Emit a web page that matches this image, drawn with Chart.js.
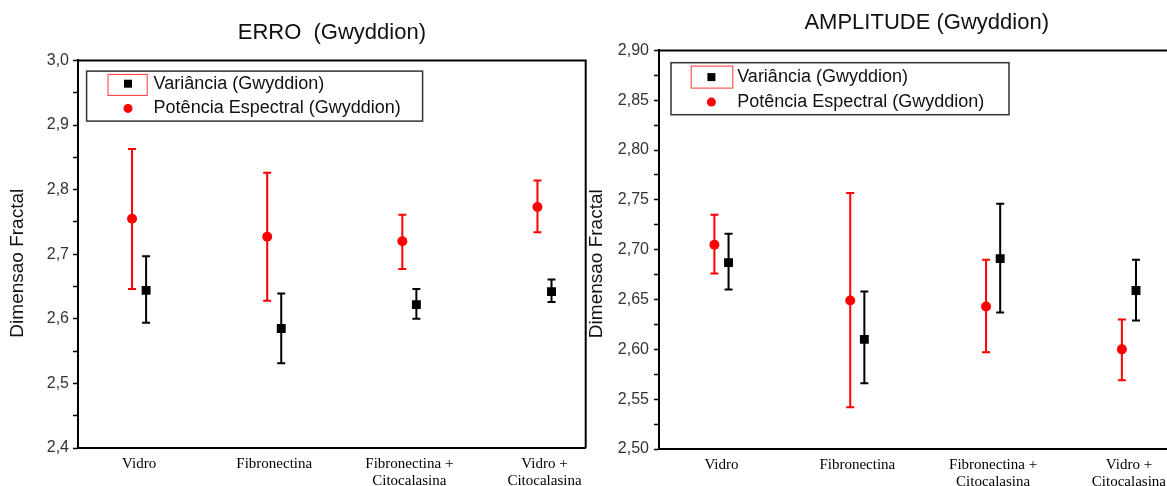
<!DOCTYPE html>
<html lang="pt">
<head>
<meta charset="utf-8">
<title>Dimensão fractal – Gwyddion</title>
<script src="https://cdn.jsdelivr.net/npm/chart.js@4.4.1/dist/chart.umd.min.js"></script>
<style>
  html, body { margin: 0; padding: 0; background: #fff; overflow: hidden; }
  #wrap { position: relative; width: 1167px; height: 486px; overflow: hidden; }
  #wrap canvas { position: absolute; top: 0; }
  #chartErro { left: 0; }
  #chartAmp { left: 585px; }
</style>
</head>
<body>
<div id="wrap">
  <canvas id="chartErro" width="592" height="486"></canvas>
  <canvas id="chartAmp" width="622" height="486"></canvas>
</div>
<script>
// amostras (eixo x)
const CATEGORIAS = [['Vidro'], ['Fibronectina'], ['Fibronectina +', 'Citocalasina'], ['Vidro +', 'Citocalasina']];
const SERIES = ['Variância (Gwyddion)', 'Potência Espectral (Gwyddion)'];
const EIXO_Y = 'Dimensao Fractal';

// ERRO: média e limites das barras de erro
const ERRO_VAR = [2.644, 2.585, 2.622, 2.642];
const ERRO_VAR_MIN = [2.594, 2.531, 2.600, 2.626];
const ERRO_VAR_MAX = [2.697, 2.639, 2.646, 2.661];
const ERRO_POT = [2.755, 2.727, 2.720, 2.773];
const ERRO_POT_MIN = [2.646, 2.628, 2.677, 2.734];
const ERRO_POT_MAX = [2.863, 2.826, 2.761, 2.814];

// AMPLITUDE
const AMP_VAR = [2.687, 2.610, 2.691, 2.659];
const AMP_VAR_MIN = [2.660, 2.566, 2.637, 2.629];
const AMP_VAR_MAX = [2.716, 2.658, 2.746, 2.690];
const AMP_POT = [2.705, 2.649, 2.643, 2.600];
const AMP_POT_MIN = [2.676, 2.542, 2.597, 2.569];
const AMP_POT_MAX = [2.735, 2.757, 2.690, 2.630];

(function () {
  'use strict';

  const SANS = '"Liberation Sans", Arial, sans-serif';
  const SERIF = '"Liberation Serif", "Times New Roman", serif';
  const RED = '#ff0000';
  const BLACK = '#000000';
  const SHIFT = 0.052; // deslocamento lateral das duas séries em cada amostra

  function points(values, min, max, dx) {
    return values.map((v, i) => ({ x: i + 1 + dx, y: v, lo: min[i], hi: max[i] }));
  }

  // barras de erro verticais com traço nas pontas
  const errorBars = {
    id: 'errorBars',
    beforeDatasetsDraw(chart) {
      const { ctx, scales: { x, y } } = chart;
      ctx.save();
      chart.data.datasets.forEach(ds => {
        ctx.strokeStyle = ds.borderColor;
        ctx.lineWidth = 2;
        ds.data.forEach(p => {
          const px = x.getPixelForValue(p.x);
          const top = y.getPixelForValue(p.hi);
          const bot = y.getPixelForValue(p.lo);
          ctx.beginPath();
          ctx.moveTo(px, top); ctx.lineTo(px, bot);
          ctx.moveTo(px - 4, top); ctx.lineTo(px + 4, top);
          ctx.moveTo(px - 4, bot); ctx.lineTo(px + 4, bot);
          ctx.stroke();
        });
      });
      ctx.restore();
    },
  };

  // moldura superior e direita
  const frame = {
    id: 'frame',
    afterDraw(chart) {
      const { ctx, chartArea: a } = chart;
      ctx.save();
      ctx.strokeStyle = BLACK;
      ctx.lineWidth = 2;
      ctx.beginPath();
      ctx.moveTo(a.left, a.top); ctx.lineTo(a.right, a.top); ctx.lineTo(a.right, a.bottom);
      ctx.stroke();
      ctx.restore();
    },
  };

  // título do eixo y, um pouco abaixo do centro do eixo
  const yTitle = {
    id: 'yTitle',
    afterDraw(chart, args, o) {
      const { ctx, chartArea: a } = chart;
      ctx.save();
      ctx.translate(o.x, (a.top + a.bottom) / 2 + o.dy);
      ctx.rotate(-Math.PI / 2);
      ctx.font = '19px ' + SANS;
      ctx.fillStyle = '#111';
      ctx.textAlign = 'center';
      ctx.textBaseline = 'middle';
      ctx.fillText(EIXO_Y, 0, 0);
      ctx.restore();
    },
  };

  // legenda dentro da área do gráfico
  const boxLegend = {
    id: 'boxLegend',
    afterDraw(chart, args, o) {
      const { ctx, chartArea: a } = chart;
      const bx = a.left + o.x, by = a.top + o.y;
      ctx.save();
      ctx.fillStyle = '#fff';
      ctx.fillRect(bx, by, o.w, o.h);
      ctx.strokeStyle = '#333';
      ctx.lineWidth = 1.5;
      ctx.strokeRect(bx, by, o.w, o.h);

      // marcação vermelha em volta do primeiro símbolo
      ctx.strokeStyle = '#ff3333';
      ctx.lineWidth = 1;
      ctx.strokeRect(bx + o.sel[0], by + o.sel[1], o.sel[2], o.sel[3]);

      ctx.font = '18px ' + SANS;
      ctx.textBaseline = 'middle';
      chart.data.datasets.forEach((ds, i) => {
        const ry = by + o.rows[i];
        const sx = bx + o.symX;
        ctx.fillStyle = ds.backgroundColor;
        if (ds.pointStyle === 'rect') {
          ctx.fillRect(sx - 4, ry - 4, 8, 8);
        } else {
          ctx.beginPath();
          ctx.arc(sx, ry, 4.5, 0, Math.PI * 2);
          ctx.fill();
        }
        ctx.fillStyle = '#111';
        ctx.fillText(ds.label, bx + o.textX, ry);
      });
      ctx.restore();
    },
  };

  function makeChart(id, cfg) {
    const yFmt = v => v.toFixed(cfg.decimals).replace('.', ',');
    return new Chart(document.getElementById(id), {
      type: 'scatter',
      data: {
        datasets: [
          {
            label: SERIES[0],
            data: points(cfg.varV, cfg.varMin, cfg.varMax, SHIFT),
            backgroundColor: BLACK,
            borderColor: BLACK,
            pointStyle: 'rect',
            pointRadius: 6.3,
            borderWidth: 0,
          },
          {
            label: SERIES[1],
            data: points(cfg.potV, cfg.potMin, cfg.potMax, -SHIFT),
            backgroundColor: RED,
            borderColor: RED,
            pointStyle: 'circle',
            pointRadius: 5,
            borderWidth: 0,
          },
        ],
      },
      options: {
        responsive: false,
        animation: false,
        events: [],
        layout: { padding: { left: 0, right: cfg.padRight, top: 0, bottom: 0 } },
        plugins: {
          legend: { display: false },
          tooltip: { enabled: false },
          title: {
            display: true,
            text: cfg.title,
            fullSize: false,
            color: '#111',
            font: { family: SANS, size: 22, weight: 'normal', lineHeight: 1.2 },
            padding: { top: cfg.titleTop, bottom: cfg.titleBottom },
          },
          boxLegend: cfg.legend,
          yTitle: cfg.yTitle,
        },
        scales: {
          x: {
            type: 'linear',
            min: cfg.xMin,
            max: cfg.xMax,
            afterBuildTicks: s => { s.ticks = CATEGORIAS.map((_, i) => ({ value: i + 1 })); },
            afterFit: s => { s.height = cfg.xHeight; },
            grid: { display: false, drawTicks: false },
            border: { display: true, color: BLACK, width: 2 },
            ticks: {
              autoSkip: false,
              maxRotation: 0,
              padding: 8,
              color: '#000',
              font: { family: SERIF, size: 15, lineHeight: 1.1 },
              callback: v => CATEGORIAS[Math.round(v) - 1],
            },
          },
          y: {
            min: cfg.yMin,
            max: cfg.yMax,
            afterFit: s => { s.width = cfg.yWidth; },
            grid: { drawOnChartArea: false, drawTicks: true, tickLength: 5, tickWidth: 1.5, tickColor: BLACK },
            border: { display: true, color: BLACK, width: 2 },
            ticks: {
              stepSize: cfg.minorStep,
              padding: cfg.tickPad,
              color: '#333',
              font: { family: SANS, size: 16 },
              callback: v => (cfg.isMajor(v) ? yFmt(v) : ''),
            },
          },
        },
      },
      plugins: [errorBars, frame, yTitle, boxLegend],
    });
  }

  function init() {
    makeChart('chartErro', {
      title: 'ERRO  (Gwyddion)',
      varV: ERRO_VAR, varMin: ERRO_VAR_MIN, varMax: ERRO_VAR_MAX,
      potV: ERRO_POT, potMin: ERRO_POT_MIN, potMax: ERRO_POT_MAX,
      yMin: 2.4, yMax: 3.0, minorStep: 0.05, decimals: 1,
      isMajor: v => Math.round(v * 100) % 10 === 0,
      xMin: 0.548, xMax: 4.305,
      padRight: 6, yWidth: 78, xHeight: 38, tickPad: 4,
      titleTop: 20, titleBottom: 14,
      yTitle: { x: 18, dy: 9 },
      legend: { x: 8.6, y: 10.7, w: 336, h: 50, symX: 41.4, textX: 67, rows: [12.6, 37.3], sel: [21.4, 3.3, 39.2, 21] },
    });

    makeChart('chartAmp', {
      title: 'AMPLITUDE (Gwyddion)',
      varV: AMP_VAR, varMin: AMP_VAR_MIN, varMax: AMP_VAR_MAX,
      potV: AMP_POT, potMin: AMP_POT_MIN, potMax: AMP_POT_MAX,
      yMin: 2.5, yMax: 2.9, minorStep: 0.025, decimals: 2,
      isMajor: v => Math.round(v * 1000) % 50 === 0,
      xMin: 0.540, xMax: 4.482,
      padRight: 12.6, yWidth: 74, xHeight: 37, tickPad: 5,
      titleTop: 10, titleBottom: 14,
      yTitle: { x: 12, dy: 14 },
      legend: { x: 12, y: 12.3, w: 338, h: 52, symX: 40.4, textX: 66.2, rows: [14.4, 39.4], sel: [20.2, 3.4, 41.6, 22] },
    });
  }

  if (document.readyState === 'loading') {
    document.addEventListener('DOMContentLoaded', init);
  } else {
    init();
  }
})();
</script>
</body>
</html>
